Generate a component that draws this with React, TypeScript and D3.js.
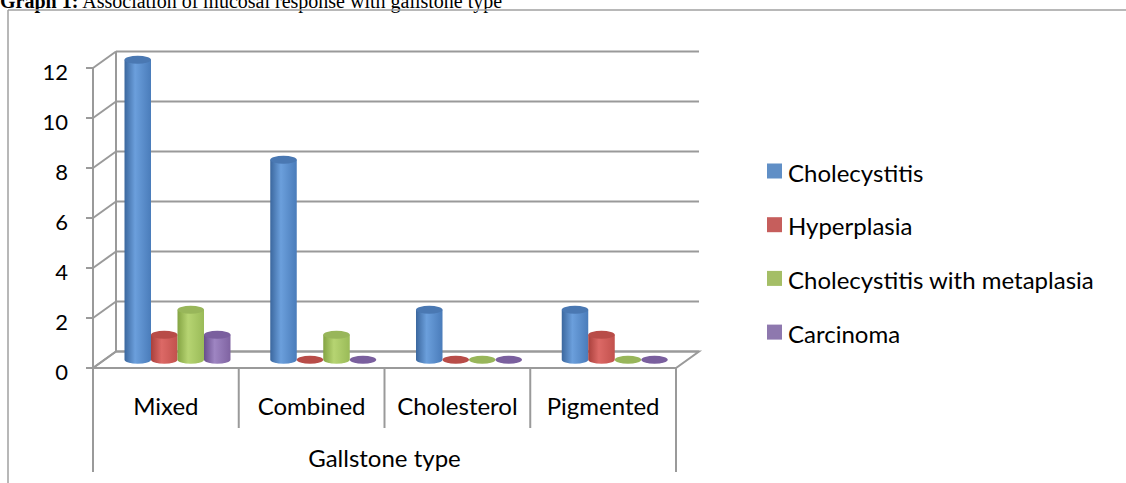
import React, { useEffect, useRef } from 'react';
import * as d3 from 'd3';

const categories = ['Mixed', 'Combined', 'Cholesterol', 'Pigmented'];
const seriesNames = ['Cholecystitis', 'Hyperplasia', 'Cholecystitis with metaplasia', 'Carcinoma'];
const cholecystitis = [12, 8, 2, 2];
const hyperplasia = [1, 0, 0, 1];
const metaplasia = [2, 1, 0, 0];
const carcinoma = [1, 0, 0, 0];
const yTicks = [0, 2, 4, 6, 8, 10, 12];

const seriesValues = [cholecystitis, hyperplasia, metaplasia, carcinoma];
// dark edge, highlight, right edge, top cap
const palette = [
  ['#3b679e', '#6b9fdc', '#4a7cba', '#4a78b2'],
  ['#a9403c', '#dc6966', '#c2514d', '#b84c48'],
  ['#84a443', '#b6d472', '#9abb58', '#98b65a'],
  ['#684e8c', '#9e85c2', '#7f63a1', '#7a5f9e'],
];

const FONT = 'Lato, "Open Sans", sans-serif';

export default function App() {
  const ref = useRef<SVGSVGElement>(null);

  useEffect(() => {
    const svg = d3.select(ref.current);
    svg.selectAll('*').remove();

    const gridColor = '#9a9a9a';
    const depthX = 23, depthY = -16.5;

    // title (cut off at top in the source)
    const title = svg.append('text')
      .attr('x', 0).attr('y', 8)
      .style('font-family', '"Liberation Serif", "Times New Roman", serif')
      .style('font-size', '20px');
    title.append('tspan').style('font-weight', 'bold').text('Graph 1:');
    title.append('tspan').text(' Association of mucosal response with gallstone type');

    // chart area border (only top and left visible)
    svg.append('line').attr('x1', 8).attr('y1', 10).attr('x2', 1126).attr('y2', 10)
      .attr('stroke', '#a0a0a0').attr('stroke-width', 1.5);
    svg.append('line').attr('x1', 8).attr('y1', 10).attr('x2', 8).attr('y2', 483)
      .attr('stroke', '#a0a0a0').attr('stroke-width', 1.5);

    const x = d3.scaleBand().domain(categories).range([93, 676]);
    const y = d3.scaleLinear().domain([0, 12]).range([368, 68]);
    const inner = d3.scaleBand().domain(seriesNames).range([20, 126]);

    // gradients
    const defs = svg.append('defs');
    palette.forEach((c, i) => {
      const g = defs.append('linearGradient').attr('id', 'cyl' + i)
        .attr('x1', '0%').attr('x2', '100%').attr('y1', '0%').attr('y2', '0%');
      g.append('stop').attr('offset', '0%').attr('stop-color', c[0]);
      g.append('stop').attr('offset', '40%').attr('stop-color', c[1]);
      g.append('stop').attr('offset', '100%').attr('stop-color', c[2]);
    });

    const x0 = x.range()[0], x1 = x.range()[1];

    // floor
    svg.append('path')
      .attr('d', `M${x0},${y(0)} L${x1},${y(0)} L${x1 + depthX},${y(0) + depthY} L${x0 + depthX},${y(0) + depthY} Z`)
      .attr('fill', 'white').attr('stroke', gridColor).attr('stroke-width', 2);

    // back wall gridlines and side wall diagonals
    const grid = svg.append('g').attr('stroke', gridColor).attr('stroke-width', 2).attr('fill', 'none');
    yTicks.forEach(t => {
      grid.append('line')
        .attr('x1', x0 + depthX).attr('x2', x1 + depthX)
        .attr('y1', y(t) + depthY).attr('y2', y(t) + depthY);
      grid.append('line')
        .attr('x1', x0).attr('x2', x0 + depthX)
        .attr('y1', y(t)).attr('y2', y(t) + depthY);
      grid.append('line')
        .attr('x1', x0 - 7).attr('x2', x0)
        .attr('y1', y(t)).attr('y2', y(t));
    });
    grid.append('line').attr('x1', x0 + depthX).attr('x2', x0 + depthX)
      .attr('y1', y(12) + depthY).attr('y2', y(0) + depthY);
    grid.append('line').attr('x1', x0).attr('x2', x0)
      .attr('y1', y(12)).attr('y2', 472);
    grid.append('line').attr('x1', x1).attr('x2', x1)
      .attr('y1', y(0)).attr('y2', 472);
    categories.slice(1).forEach(c => {
      grid.append('line').attr('x1', x(c)!).attr('x2', x(c)!)
        .attr('y1', y(0)).attr('y2', 428);
    });

    // y tick labels
    svg.append('g').selectAll('text').data(yTicks).join('text')
      .attr('x', 68).attr('y', d => y(d) + 3)
      .attr('text-anchor', 'end').attr('dominant-baseline', 'central')
      .style('font-family', FONT).style('font-size', '22px').attr('fill', '#000')
      .text(d => d);

    // category labels
    svg.append('g').selectAll('text').data(categories).join('text')
      .attr('x', d => x(d)! + x.bandwidth() / 2).attr('y', 405)
      .attr('text-anchor', 'middle').attr('dominant-baseline', 'central')
      .style('font-family', FONT).style('font-size', '24px')
      .text(d => d);

    svg.append('text')
      .attr('x', (x0 + x1) / 2).attr('y', 457)
      .attr('text-anchor', 'middle').attr('dominant-baseline', 'central')
      .style('font-family', FONT).style('font-size', '24px')
      .text('Gallstone type');

    // cylinders
    const bars = svg.append('g');
    const ry = 4;
    categories.forEach((c, ci) => {
      seriesNames.forEach((s, si) => {
        const v = seriesValues[si][ci];
        const left = x(c)! + inner(s)! + depthX / 2;
        const w = inner.bandwidth();
        const rx = w / 2;
        const cx = left + rx;
        const base = y(0) + depthY / 2;
        const top = y(v) + depthY / 2;
        if (v > 0) {
          bars.append('path')
            .attr('d', `M${left},${top} L${left},${base} A${rx},${ry} 0 0 0 ${left + w},${base} L${left + w},${top} Z`)
            .attr('fill', `url(#cyl${si})`);
        }
        bars.append('ellipse')
          .attr('cx', cx).attr('cy', top).attr('rx', rx).attr('ry', ry)
          .attr('fill', palette[si][3]);
      });
    });

    // legend
    const legend = svg.append('g');
    seriesNames.forEach((s, i) => {
      const cy = 171 + i * 53.7;
      legend.append('rect').attr('x', 767).attr('y', cy - 7.5).attr('width', 15).attr('height', 15)
        .attr('fill', d3.color(palette[i][1])!.darker(0.3).toString());
      legend.append('text').attr('x', 788).attr('y', cy + 1)
        .attr('dominant-baseline', 'central')
        .style('font-family', FONT).style('font-size', '24px')
        .text(s);
    });
  }, []);

  return (
    <svg ref={ref} width={1126} height={483}
      style={{ position: 'absolute', left: 0, top: 0, background: 'white' }} />
  );
}
